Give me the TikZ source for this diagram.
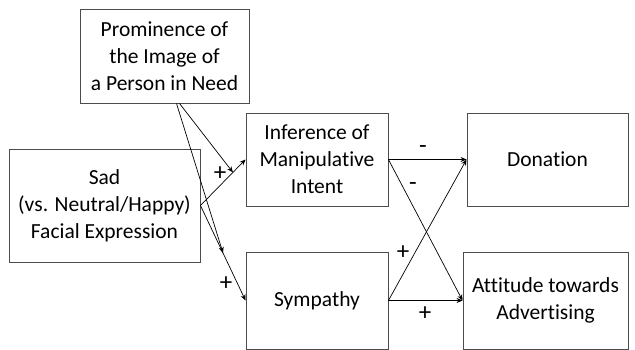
\documentclass[tikz,border=0pt]{standalone}
\usepackage{fontspec}
\setmainfont{Carlito}[Ligatures={NoCommon}]
\usetikzlibrary{arrows.meta}

\begin{document}
\begin{tikzpicture}[x=1pt,y=-1pt,
		box/.style={draw=black!70,line width=0.9pt,align=center,inner sep=0pt,font=\fontsize{21.5}{27}\selectfont},
		arr/.style={-{Stealth[length=6pt,width=5pt]},line width=0.7pt},
		sign/.style={font=\fontsize{25}{28}\selectfont,inner sep=0pt}]
		\useasboundingbox (0,0) rectangle (635,350);
		% boxes
		\node[box,minimum width=169pt,minimum height=94pt] (prom) at (164.5,56) {Prominence of\\the Image of\\a Person in Need};
		\node[box,minimum width=191pt,minimum height=113pt] (sad) at (104.5,205.5) {Sad\\(vs. Neutral/Happy)\\Facial Expression};
		\node[box,minimum width=142pt,minimum height=93pt] (inf) at (317,159.5) {Inference of\\Manipulative\\Intent};
		\node[box,minimum width=142pt,minimum height=97pt] (sym) at (317,300.5) {Sympathy};
		\node[box,minimum width=161pt,minimum height=93pt] (don) at (547.5,159.5) {Donation};
		\node[box,minimum width=165pt,minimum height=97pt] (att) at (545.5,300.5) {Attitude towards\\Advertising};
		% paths
		\draw[arr] (sad.east) -- coordinate[pos=0.72] (m1) (inf.west);
		\draw[arr] (sad.east) -- coordinate[pos=0.5] (m2) (sym.west);
		\draw[arr] ([xshift=15pt]prom.south) -- (m1);
		\draw[arr] ([xshift=12pt]prom.south) -- (m2);
		\draw[arr] (inf.east) -- (don.west);
		\draw[arr] (inf.east) -- (att.west);
		\draw[arr] (sym.east) -- (don.west);
		\draw[arr] (sym.east) -- (att.west);
		% signs
		\node[sign] (s1) at (220,174) {+};
		\node[sign] (s2) at (226,284) {+};
		\node[sign] (s3) at (423,150) {-};
		\node[sign] (s4) at (413,187) {-};
		\node[sign] (s5) at (403,253) {+};
		\node[sign] (s6) at (425,314) {+};
\end{tikzpicture}
\end{document}
